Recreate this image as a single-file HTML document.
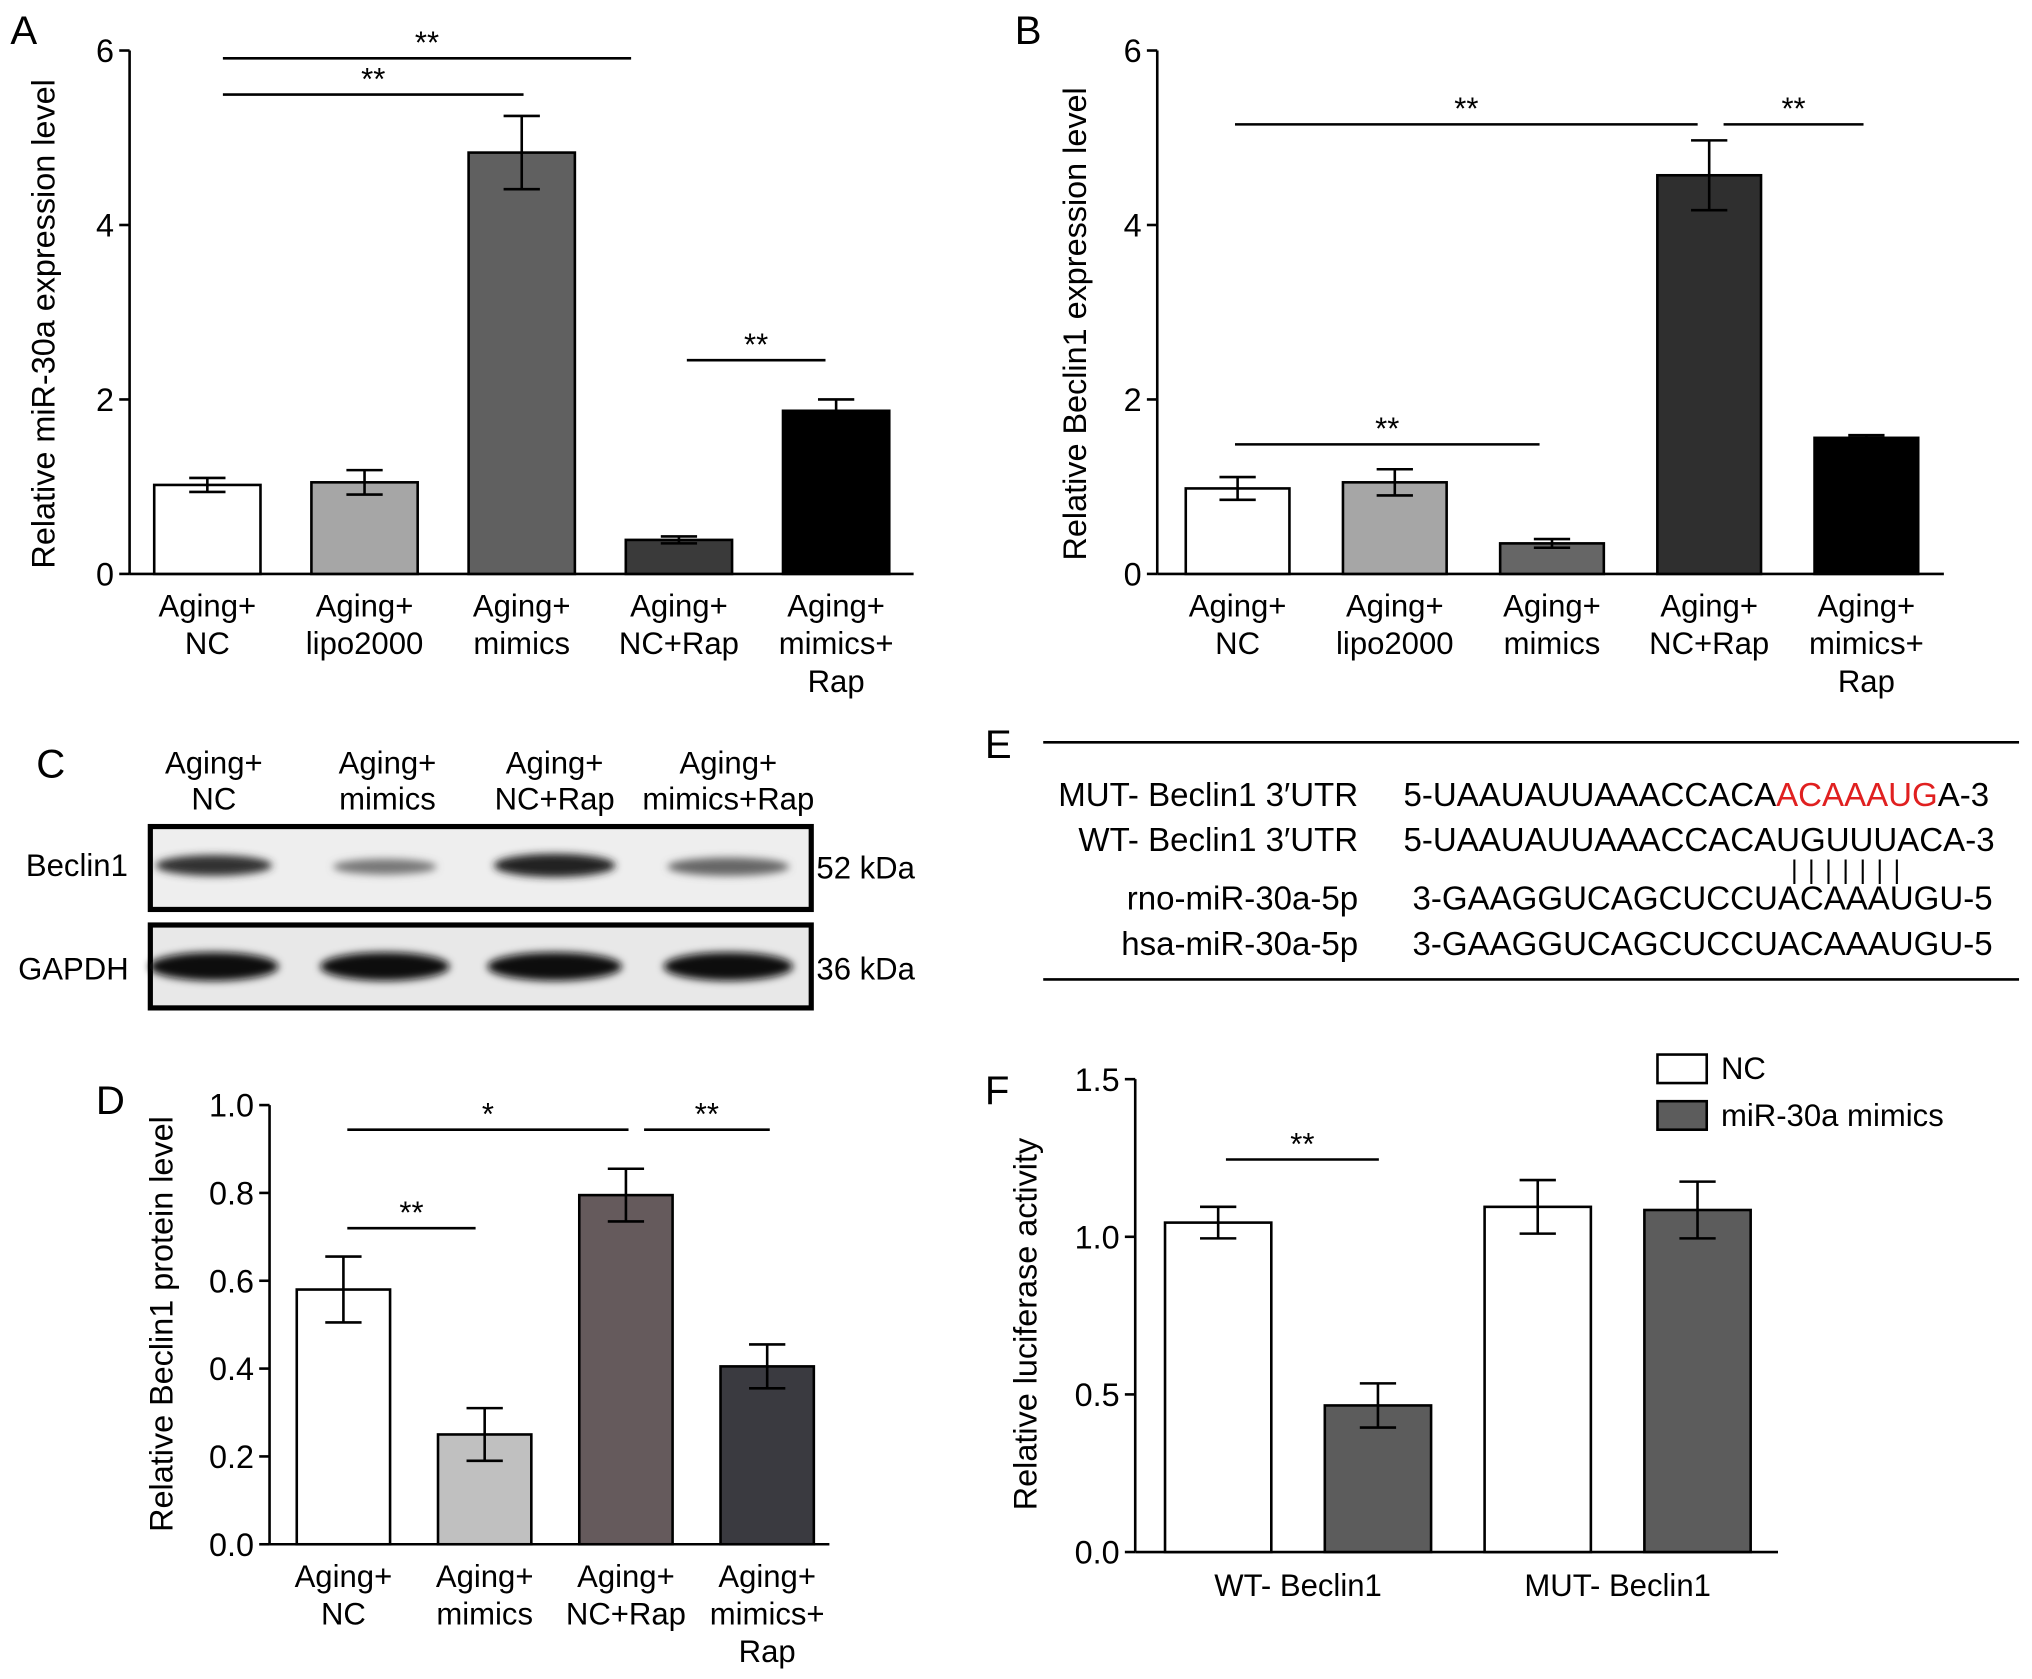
<!DOCTYPE html>
<html><head><meta charset="utf-8"><style>
html,body{margin:0;padding:0;background:#fff;}
svg{display:block;font-family:"Liberation Sans",Arial,sans-serif;}
</style></head><body>
<svg id="fig" width="2032" height="1679" viewBox="0 0 1568 1296" preserveAspectRatio="none">
<defs><filter id="blur" x="-20%" y="-50%" width="140%" height="200%"><feGaussianBlur stdDeviation="3"/></filter></defs>
<g id="static" fill="#000" font-size="24">
<text x="8" y="34" font-size="31">A</text>
<text x="783" y="34" font-size="31">B</text>
<text x="28" y="600" font-size="31">C</text>
<text x="760" y="585" font-size="31">E</text>
<text x="74" y="860" font-size="31">D</text>
<text x="760" y="852" font-size="31">F</text>
<text transform="translate(42,250) rotate(-90)" text-anchor="middle" font-size="25">Relative miR-30a expression level</text>
<text transform="translate(838,250) rotate(-90)" text-anchor="middle" font-size="25">Relative Beclin1 expression level</text>
<text transform="translate(133,1022) rotate(-90)" text-anchor="middle" font-size="25">Relative Beclin1 protein level</text>
<text transform="translate(800,1022) rotate(-90)" text-anchor="middle" font-size="25">Relative luciferase activity</text>
<g>
<g text-anchor="middle">
<text x="165" y="597">Aging+</text><text x="165" y="625">NC</text>
<text x="299" y="597">Aging+</text><text x="299" y="625">mimics</text>
<text x="428" y="597">Aging+</text><text x="428" y="625">NC+Rap</text>
<text x="562" y="597">Aging+</text><text x="562" y="625">mimics+Rap</text>
</g>
<text x="20" y="676">Beclin1</text><text x="14" y="756">GAPDH</text>
<text x="630" y="678">52 kDa</text><text x="630" y="756">36 kDa</text>
<rect x="116" y="638" width="510" height="64" fill="#eee" stroke="#000" stroke-width="4"/>
<rect x="116" y="714" width="510" height="64" fill="#e8e8e8" stroke="#000" stroke-width="4"/>
<g filter="url(#blur)">
<ellipse cx="165" cy="668" rx="45" ry="8" fill="#333"/>
<ellipse cx="297" cy="669" rx="40" ry="6" fill="#777"/>
<ellipse cx="428" cy="668" rx="47" ry="9" fill="#222"/>
<ellipse cx="562" cy="669" rx="47" ry="7" fill="#666"/>
<ellipse cx="165" cy="746" rx="50" ry="11" fill="#111"/>
<ellipse cx="297" cy="746" rx="50" ry="11" fill="#111"/>
<ellipse cx="428" cy="746" rx="52" ry="11" fill="#111"/>
<ellipse cx="562" cy="746" rx="50" ry="11" fill="#111"/>
</g>
</g>
<g font-size="25.5">
<line x1="805" y1="573" x2="1558" y2="573" stroke="#000" stroke-width="2"/>
<line x1="805" y1="756" x2="1558" y2="756" stroke="#000" stroke-width="2"/>
<g text-anchor="end">
<text x="1048" y="622">MUT- Beclin1  3′UTR</text>
<text x="1048" y="657">WT- Beclin1  3′UTR</text>
<text x="1048" y="702">rno-miR-30a-5p</text>
<text x="1048" y="737">hsa-miR-30a-5p</text>
</g>
<text x="1083" y="622">5-UAAUAUUAAACCACA<tspan fill="#e02020">ACAAAUG</tspan>A-3</text>
<text x="1083" y="657">5-UAAUAUUAAACCACAUGUUUACA-3</text>
<text x="1382" y="678" font-size="20" letter-spacing="8">|||||||</text>
<text x="1090" y="702">3-GAAGGUCAGCUCCUACAAAUGU-5</text>
<text x="1090" y="737">3-GAAGGUCAGCUCCUACAAAUGU-5</text>
</g>
<g>
<rect x="1279" y="814" width="38" height="22" fill="#fff" stroke="#000" stroke-width="2"/>
<text x="1328" y="833">NC</text>
<rect x="1279" y="850" width="38" height="22" fill="#5c5c5c" stroke="#000" stroke-width="2"/>
<text x="1328" y="869">miR-30a mimics</text>
</g>
</g>
<g id="charts"></g>
</svg>
<script>
// Panel A
const aCats = [["Aging+","NC"],["Aging+","lipo2000"],["Aging+","mimics"],["Aging+","NC+Rap"],["Aging+","mimics+","Rap"]];
const aValues = [1.02, 1.05, 4.83, 0.39, 1.87];
const aErrors = [0.08, 0.14, 0.42, 0.04, 0.13];
const aTicks = [0, 2, 4, 6];
// Panel B
const bCats = [["Aging+","NC"],["Aging+","lipo2000"],["Aging+","mimics"],["Aging+","NC+Rap"],["Aging+","mimics+","Rap"]];
const bValues = [0.98, 1.05, 0.35, 4.57, 1.56];
const bErrors = [0.13, 0.15, 0.05, 0.40, 0.03];
const bTicks = [0, 2, 4, 6];
// Panel D
const dCats = [["Aging+","NC"],["Aging+","mimics"],["Aging+","NC+Rap"],["Aging+","mimics+","Rap"]];
const dValues = [0.58, 0.25, 0.795, 0.405];
const dErrors = [0.075, 0.06, 0.06, 0.05];
const dTicks = ["0.0","0.2","0.4","0.6","0.8","1.0"];
// Panel F
const fGroups = ["WT- Beclin1", "MUT- Beclin1"];
const fNC = [1.045, 1.095];
const fNCErr = [0.05, 0.085];
const fMimics = [0.465, 1.085];
const fMimicsErr = [0.07, 0.09];
const fTicks = ["0.0","0.5","1.0","1.5"];

const NS = "http://www.w3.org/2000/svg";
const root = document.getElementById("charts");
function mk(tag, attrs, parent) {
  const e = document.createElementNS(NS, tag);
  for (const k in attrs) e.setAttribute(k, attrs[k]);
  (parent || root).appendChild(e);
  return e;
}
function txt(x, y, s, anchor, parent, fs) {
  const t = mk("text", {x: x, y: y, "text-anchor": anchor || "middle", "font-size": fs || 24}, parent);
  t.textContent = s;
  return t;
}
function chart(o) {
  const g = mk("g", {});
  
  
  const y = v => o.y0 - (v / o.max) * (o.y0 - o.yTop);
  const x = i => o.x0 + o.first + i * o.step;
  mk("line", {x1: o.x0, y1: o.yTop, x2: o.x0, y2: o.y0, stroke: "#000", "stroke-width": 2}, g);
  mk("line", {x1: o.x0, y1: o.y0, x2: o.xEnd, y2: o.y0, stroke: "#000", "stroke-width": 2}, g);
  o.ticks.forEach(t => {
    const v = parseFloat(t), yy = y(v);
    mk("line", {x1: o.x0 - 8, y1: yy, x2: o.x0, y2: yy, stroke: "#000", "stroke-width": 2}, g);
    const l = txt(o.x0 - 12, yy + 9, String(t), "end", g, 25);
    
    
  });
  o.values.forEach((v, i) => {
    const cx = x(i);
    const r = mk("rect", {x: cx - o.bw / 2, y: y(v), width: o.bw, height: o.y0 - y(v), fill: o.colors[i], stroke: "#000", "stroke-width": 2}, g);
    
    
    const e = o.errors[i];
    const eb = mk("path", {d: `M${cx},${y(v+e)}V${y(v-e)}M${cx-14},${y(v+e)}H${cx+14}M${cx-14},${y(v-e)}H${cx+14}`, stroke: "#000", "stroke-width": 2, fill: "none"}, g);
    
    
  });
  if (o.cats) o.cats.forEach((c, i) => {
    c.forEach((s, j) => {
      const l = txt(x(i), o.y0 + 33 + j * 29, s, "middle", g);
      
      
    });
  });
  (o.sig || []).forEach(s => {
    mk("line", {x1: s[0], y1: s[2], x2: s[1], y2: s[2], stroke: "#000", "stroke-width": 2}, g);
    const l = txt((s[0] + s[1]) / 2, s[2] - 4, s[3], "middle", g);
    
    
  });
  return {g, x, y};
}
chart({name: "panel-a-chart", x0: 100, y0: 443, yTop: 39, max: 6, xEnd: 705, first: 60, step: 121.3, bw: 82,
  values: aValues, errors: aErrors, ticks: aTicks, cats: aCats,
  colors: ["#fff", "#a6a6a6", "#606060", "#3a3a3a", "#000"],
  sig: [[172, 487, 45, "**"], [172, 404, 73, "**"], [530, 637, 278, "**"]]});
chart({name: "panel-b-chart", x0: 893, y0: 443, yTop: 39, max: 6, xEnd: 1500, first: 62, step: 121.3, bw: 80,
  values: bValues, errors: bErrors, ticks: bTicks, cats: bCats,
  colors: ["#fff", "#a6a6a6", "#666", "#2f2f2f", "#000"],
  sig: [[953, 1310, 96, "**"], [1330, 1438, 96, "**"], [953, 1188, 343, "**"]]});
chart({name: "panel-d-chart", x0: 208, y0: 1192, yTop: 853, max: 1.0, xEnd: 640, first: 57, step: 109, bw: 72,
  values: dValues, errors: dErrors, ticks: dTicks, cats: dCats,
  colors: ["#fff", "#c0c0c0", "#655a5c", "#3a3a40"],
  sig: [[268, 485, 872, "*"], [497, 594, 872, "**"], [268, 367, 948, "**"]]});
const fVals = [fNC[0], fMimics[0], fNC[1], fMimics[1]];
const fErrs = [fNCErr[0], fMimicsErr[0], fNCErr[1], fMimicsErr[1]];
const f = chart({name: "panel-f-chart", x0: 876, y0: 1198, yTop: 833, max: 1.5, xEnd: 1372, first: 64, step: 123.3, bw: 82,
  values: fVals, errors: fErrs, ticks: fTicks,
  colors: ["#fff", "#5c5c5c", "#fff", "#5c5c5c"],
  sig: [[946, 1064, 895, "**"]]});
fGroups.forEach((s, i) => {
  const l = txt((f.x(2 * i) + f.x(2 * i + 1)) / 2, 1232, s, "middle", f.g);
  
  
});
</script>
</body></html>
